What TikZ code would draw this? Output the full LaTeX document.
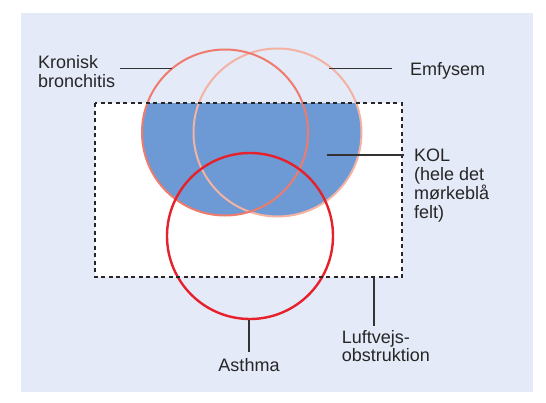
\documentclass[tikz,border=0pt]{standalone}
\usepackage{fontspec}
\setmainfont{Liberation Sans}
\definecolor{bgblue}{HTML}{E4EAF7}
\definecolor{kolblue}{HTML}{6D9AD4}
\definecolor{kbred}{HTML}{EF7B6C}
\definecolor{emred}{HTML}{F4B2A2}
\definecolor{asred}{HTML}{E6212B}
\definecolor{leader}{HTML}{333333}
\begin{document}
\begin{tikzpicture}[x=1pt,y=-1pt,
  lbl/.style={font=\fontsize{18}{18.7}\selectfont, text=black!85, inner sep=0pt, align=left, anchor=base west},
  leadline/.style={draw=leader, line width=1.2pt},
  ring/.style={line width=2pt}]
\useasboundingbox (0,0) rectangle (546,402);
\fill[bgblue] (21,13) rectangle (533,392);
\coordinate (rtl) at (95,103);
\coordinate (rbr) at (402,277);
\fill[white] (rtl) rectangle (rbr);
\coordinate (ckb) at (225,132.5);
\coordinate (cem) at (277.5,132.5);
\coordinate (cas) at (250,236);
\begin{scope}
  \clip (rtl) rectangle (rbr);
  \fill[kolblue] (ckb) circle[radius=83pt];
  \fill[kolblue] (cem) circle[radius=84pt];
\end{scope}
\draw[ring, draw=emred] (cem) circle[radius=84pt];
\draw[ring, draw=kbred] (ckb) circle[radius=83pt];
\draw[ring, draw=asred, line width=2.4pt] (cas) circle[radius=83pt];
\draw[line width=2pt, dash pattern=on 4pt off 3.5pt, draw=black!85] (rtl) rectangle (rbr);
% labels
\node[lbl] (kb) at (38,87.3) {Kronisk\\bronchitis};
\node[lbl] (em) at (410,75) {Emfysem};
\node[lbl] (kol) at (414,218) {KOL\\(hele det\\mørkeblå\\felt)};
\node[lbl, anchor=base] (as) at (249,371.7) {Asthma};
\node[lbl] (lo) at (341.7,361.7) {Luftvejs-\\obstruktion};
% leader lines
\coordinate (kbA) at (120,68.3);
\coordinate (kbB) at (171.7,68.3);
\coordinate (emA) at (329,68.3);
\coordinate (emB) at (392,68.3);
\coordinate (kolA) at (326.7,155);
\coordinate (kolB) at (404,155);
\coordinate (asA) at (249,320);
\coordinate (asB) at (249,351.7);
\coordinate (loA) at (374,277.3);
\coordinate (loB) at (374,326);
\draw[leadline] (kbA) -- (kbB);
\draw[leadline] (emA) -- (emB);
\draw[leadline] (kolA) -- (kolB);
\draw[leadline] (asA) -- (asB);
\draw[leadline] (loA) -- (loB);
\end{tikzpicture}
\end{document}
